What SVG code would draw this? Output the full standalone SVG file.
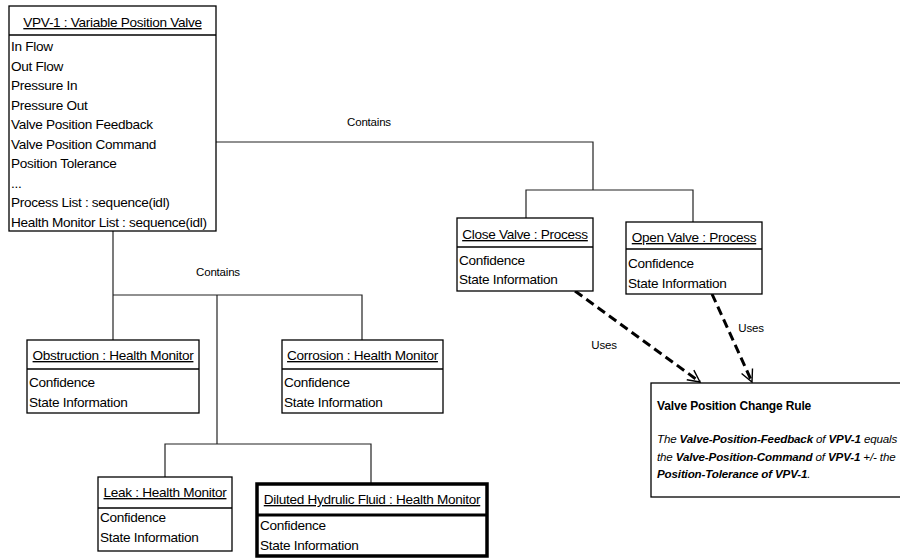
<svg xmlns="http://www.w3.org/2000/svg" width="900" height="558" viewBox="0 0 900 558">
<style>
text{font-family:"Liberation Sans",Arial,sans-serif;fill:#000}
.box{fill:#fff;stroke:#000;stroke-width:1.3}
.thick{fill:#fff;stroke:#000;stroke-width:3.5}
.div{stroke:#000;stroke-width:1.3}
.divt{stroke:#000;stroke-width:3}
.t{font-size:13.6px;letter-spacing:-0.3px;text-anchor:middle;text-decoration:underline}
.a{font-size:13.6px;letter-spacing:-0.3px}
.lbl{font-size:11.5px;letter-spacing:-0.2px;text-anchor:middle}
.con{fill:none;stroke:#222;stroke-width:1.2}
.dash{fill:none;stroke:#000;stroke-width:3;stroke-dasharray:9 5}
.rt{font-size:12px;font-weight:bold;letter-spacing:-0.15px}
.ri{font-size:11.6px;font-style:italic;letter-spacing:-0.15px}
.b{font-weight:bold}
</style>
<defs>
<marker id="open" markerUnits="userSpaceOnUse" markerWidth="16" markerHeight="16" viewBox="0 0 16 16" refX="14" refY="8" orient="auto">
<path d="M2,2 L14,8 L2,14" fill="none" stroke="#000" stroke-width="1.4"/>
</marker>
</defs>

<g id="connectors">
<polyline class="con" points="216,142 593,142 593,190"/>
<polyline class="con" points="526,218 526,190 693,190 693,222"/>
<line class="con" x1="113" y1="231" x2="113" y2="340"/>
<polyline class="con" points="113,295 362,295 362,340"/>
<line class="con" x1="217" y1="295" x2="217" y2="444"/>
<polyline class="con" points="165,477 165,444 371,444 371,483"/>
<text class="lbl" x="369" y="126">Contains</text>
<text class="lbl" x="218" y="276">Contains</text>
<line class="dash" x1="575" y1="291" x2="700" y2="382" marker-end="url(#open)"/>
<line class="dash" x1="712" y1="294" x2="752" y2="382" marker-end="url(#open)"/>
<text class="lbl" x="604" y="349">Uses</text>
<text class="lbl" x="751" y="332">Uses</text>
</g>

<g id="vpv1">
<rect class="box" x="9" y="6" width="207" height="225"/>
<line class="div" x1="9" y1="35" x2="216" y2="35"/>
<text class="t" x="112.5" y="27">VPV-1 : Variable Position Valve</text>
<text class="a" x="11" y="51">In Flow</text>
<text class="a" x="11" y="70.5">Out Flow</text>
<text class="a" x="11" y="90">Pressure In</text>
<text class="a" x="11" y="109.5">Pressure Out</text>
<text class="a" x="11" y="129">Valve Position Feedback</text>
<text class="a" x="11" y="148.5">Valve Position Command</text>
<text class="a" x="11" y="168">Position Tolerance</text>
<text class="a" x="11" y="187.5">...</text>
<text class="a" x="11" y="207">Process List : sequence(idl)</text>
<text class="a" x="11" y="226.5">Health Monitor List : sequence(idl)</text>
</g>

<g id="close-valve">
<rect class="box" x="457" y="218" width="136" height="73"/>
<line class="div" x1="457" y1="247" x2="593" y2="247"/>
<text class="t" x="525" y="239">Close Valve : Process</text>
<text class="a" x="459" y="265">Confidence</text>
<text class="a" x="459" y="284">State Information</text>
</g>

<g id="open-valve">
<rect class="box" x="626" y="222" width="136" height="72"/>
<line class="div" x1="626" y1="249" x2="762" y2="249"/>
<text class="t" x="694" y="242">Open Valve : Process</text>
<text class="a" x="628" y="268">Confidence</text>
<text class="a" x="628" y="288">State Information</text>
</g>

<g id="obstruction">
<rect class="box" x="27" y="340" width="172" height="73"/>
<line class="div" x1="27" y1="369" x2="199" y2="369"/>
<text class="t" x="113" y="360">Obstruction : Health Monitor</text>
<text class="a" x="29" y="387">Confidence</text>
<text class="a" x="29" y="407">State Information</text>
</g>

<g id="corrosion">
<rect class="box" x="282" y="340" width="161" height="73"/>
<line class="div" x1="282" y1="369" x2="443" y2="369"/>
<text class="t" x="362.5" y="360">Corrosion : Health Monitor</text>
<text class="a" x="284" y="387">Confidence</text>
<text class="a" x="284" y="407">State Information</text>
</g>

<g id="leak">
<rect class="box" x="98" y="477" width="134" height="74"/>
<line class="div" x1="98" y1="508" x2="232" y2="508"/>
<text class="t" x="165" y="497">Leak : Health Monitor</text>
<text class="a" x="100" y="522">Confidence</text>
<text class="a" x="100" y="542">State Information</text>
</g>

<g id="diluted">
<rect class="thick" x="257" y="484" width="230" height="72"/>
<line class="divt" x1="257" y1="515" x2="487" y2="515"/>
<text class="t" x="372" y="504">Diluted Hydrulic Fluid : Health Monitor</text>
<text class="a" x="260" y="530">Confidence</text>
<text class="a" x="260" y="550">State Information</text>
</g>

<g id="rule">
<rect class="box" x="651" y="383" width="300" height="114"/>
<text class="rt" x="657" y="410">Valve Position Change Rule</text>
<text class="ri" x="657" y="443">The <tspan class="b">Valve-Position-Feedback</tspan> of <tspan class="b">VPV-1</tspan> equals</text>
<text class="ri" x="657" y="461">the <tspan class="b">Valve-Position-Command</tspan> of <tspan class="b">VPV-1</tspan> +/- the</text>
<text class="ri" x="657" y="478"><tspan class="b">Position-Tolerance of VPV-1</tspan>.</text>
</g>
</svg>
